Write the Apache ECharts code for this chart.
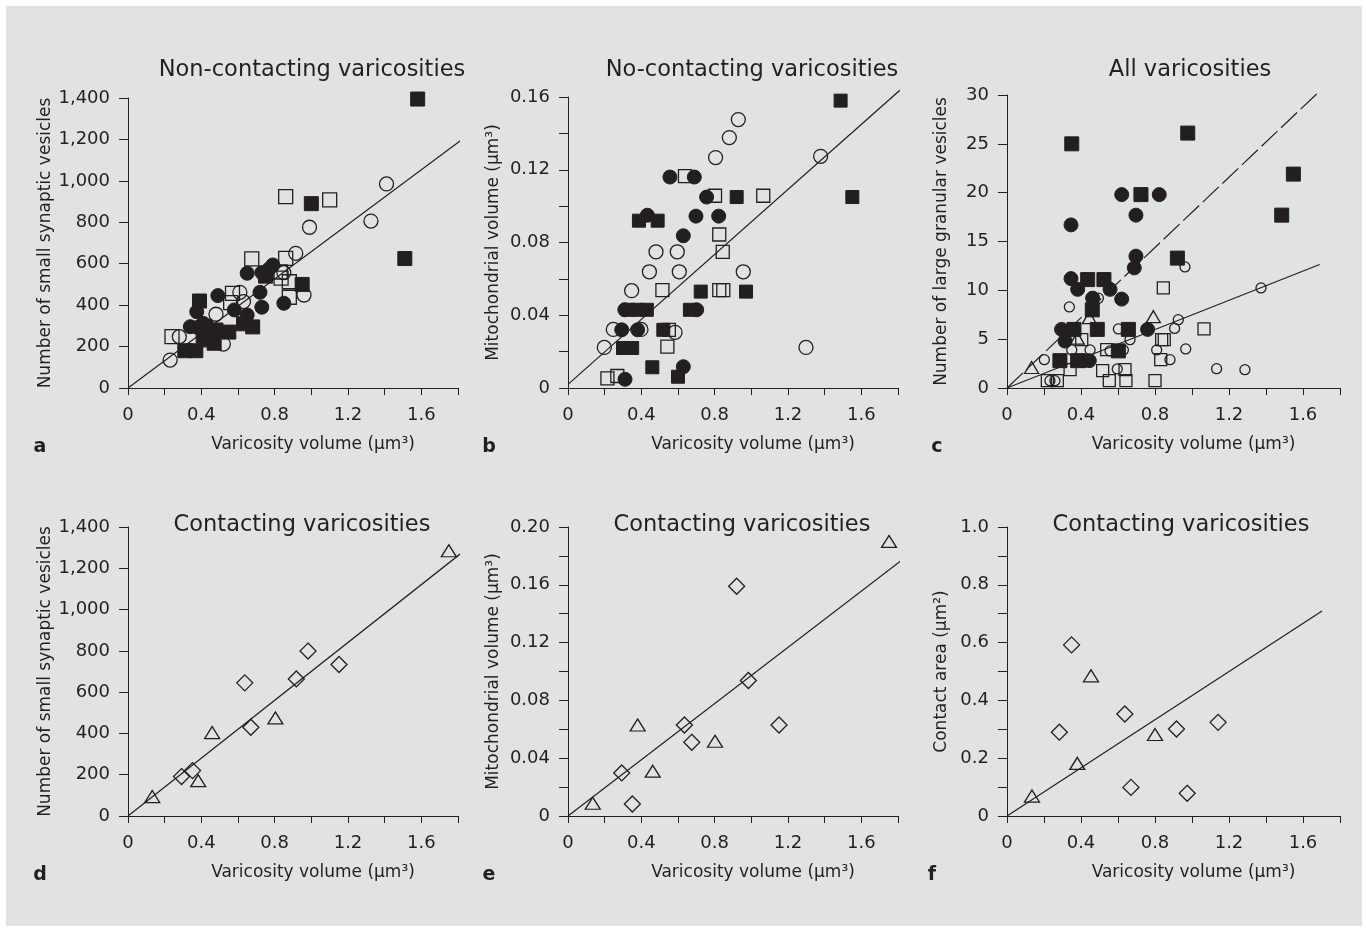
<!DOCTYPE html>
<html lang="en">
<head>
<meta charset="utf-8" />
<title>Varicosities</title>
<script src="https://cdn.jsdelivr.net/npm/echarts@6.0.0/dist/echarts.min.js"></script>
<style>
    html, body { margin: 0; padding: 0; background: #fff; }
    #panel { position: absolute; left: 6px; top: 6px; width: 1356px; height: 920px; background: #e1e2e4; }
    #chart { position: absolute; left: 0; top: 0; width: 1366px; height: 931px; }
</style>
</head>
<body>
<div id="panel"></div>
<div id="chart"></div>
<script type="text/javascript">
// ---- panel a: non-contacting, small synaptic vesicles ----
var aFilledSquare = [[1.58, 1395], [1.51, 625], [1.0, 890], [0.95, 500], [0.39, 420], [0.31, 180], [0.37, 180],
    [0.63, 310], [0.68, 295], [0.48, 280], [0.55, 270], [0.44, 232], [0.47, 216], [0.75, 540], [0.41, 250]];
var aFilledCircle = [[0.65, 554], [0.73, 557], [0.79, 594], [0.77, 575], [0.49, 446], [0.375, 368], [0.34, 296],
    [0.41, 312], [0.72, 462], [0.73, 390], [0.58, 377], [0.65, 352], [0.85, 409], [0.38, 292], [0.43, 302]];
var aOpenCircle = [[1.41, 985], [1.325, 806], [0.99, 776], [0.915, 650], [0.85, 557], [0.96, 449], [0.61, 462],
    [0.63, 417], [0.48, 356], [0.52, 212], [0.28, 248], [0.23, 135]];
var aOpenSquare = [[0.86, 924], [1.1, 908], [0.675, 623], [0.86, 626], [0.835, 530], [0.88, 513], [0.88, 438],
    [0.57, 457], [0.56, 412], [0.24, 248], [0.83, 560]];
var aFit = [[0, 0], [1.82, 1198]];

// ---- panel b: no-contacting, mitochondrial volume ----
var bFilledSquare = [[1.487, 0.158], [1.551, 0.105], [0.92, 0.105], [0.387, 0.092], [0.489, 0.092], [0.724, 0.053],
    [0.971, 0.053], [0.33, 0.043], [0.38, 0.043], [0.43, 0.043], [0.665, 0.043], [0.52, 0.032], [0.3, 0.022],
    [0.35, 0.022], [0.46, 0.0114], [0.6, 0.0062]];
var bFilledCircle = [[0.556, 0.116], [0.689, 0.116], [0.756, 0.105], [0.698, 0.0945], [0.822, 0.0945], [0.629, 0.0837],
    [0.433, 0.095], [0.293, 0.032], [0.38, 0.032], [0.629, 0.0117], [0.311, 0.0048], [0.702, 0.043], [0.31, 0.043]];
var bOpenCircle = [[0.929, 0.1476], [0.88, 0.1377], [0.805, 0.1267], [1.378, 0.1274], [0.48, 0.0749], [0.596, 0.0749],
    [0.444, 0.0639], [0.607, 0.0639], [0.956, 0.0639], [0.347, 0.0535], [0.247, 0.0322], [0.398, 0.0322],
    [0.584, 0.0306], [0.198, 0.0223], [1.298, 0.0223]];
var bOpenSquare = [[0.638, 0.1165], [0.802, 0.1057], [1.065, 0.1057], [0.825, 0.0844], [0.844, 0.0749], [0.515, 0.0538],
    [0.825, 0.0538], [0.847, 0.0538], [0.542, 0.0227], [0.215, 0.0053], [0.269, 0.0066], [0.55, 0.032]];
var bFit = [[0, 0.002], [1.81, 0.1637]];

// ---- panel c: all varicosities, large granular vesicles ----
var cFilledSquare = [[0.35, 25.0], [0.724, 19.8], [0.977, 26.1], [1.548, 21.9], [1.485, 17.7], [0.921, 13.3], [0.436, 11.1],
    [0.524, 11.1], [0.461, 8.0], [0.362, 6.0], [0.488, 6.0], [0.656, 6.0], [0.286, 2.8], [0.382, 2.8], [0.602, 3.8]];
var cFilledCircle = [[0.62, 19.8], [0.823, 19.8], [0.697, 17.7], [0.346, 16.7], [0.697, 13.5], [0.688, 12.3], [0.346, 11.2],
    [0.382, 10.1], [0.557, 10.1], [0.62, 9.1], [0.463, 9.2], [0.76, 6.0], [0.295, 6.0], [0.314, 4.8], [0.413, 2.8], [0.445, 2.8]];
var cOpenCircle = [[0.337, 8.3], [0.962, 12.4], [0.926, 7.0], [0.906, 6.1], [0.602, 6.05], [0.665, 4.95], [0.202, 2.9],
    [0.35, 3.9], [0.449, 3.9], [0.557, 3.8], [0.629, 3.9], [0.809, 3.9], [0.881, 2.9], [0.596, 1.95], [0.232, 0.75],
    [0.259, 0.75], [0.494, 9.2], [1.373, 10.25], [1.133, 1.98], [1.286, 1.88], [0.966, 4.0]];
var cOpenSquare = [[0.845, 10.25], [0.404, 4.95], [0.836, 4.95], [0.539, 3.93], [0.831, 2.9], [0.341, 1.88], [0.517, 1.78],
    [0.638, 1.88], [0.218, 0.75], [0.272, 0.75], [0.553, 0.75], [0.643, 0.75], [0.8, 0.75], [1.065, 6.05], [0.85, 4.95]];
var cOpenTriangle = [[0.133, 2.1], [0.445, 7.2], [0.791, 7.3], [0.38, 5.1]];
var cFitSolid = [[0, 0], [1.69, 12.64]];
var cFitDashed = [[0, 0], [1.69, 30.4]];

// ---- panel d: contacting, small synaptic vesicles ----
var dTriangle = [[1.75, 1285], [0.804, 475], [0.459, 404], [0.383, 171], [0.132, 94]];
var dDiamond = [[0.982, 799], [1.151, 734], [0.918, 664], [0.637, 645], [0.67, 430], [0.352, 220], [0.292, 191]];
var dFit = [[0, 0], [1.82, 1275]];

// ---- panel e: contacting, mitochondrial volume ----
var eTriangle = [[1.751, 0.190], [0.38, 0.063], [0.802, 0.0517], [0.462, 0.031], [0.135, 0.0088]];
var eDiamond = [[0.92, 0.159], [0.984, 0.0938], [0.635, 0.063], [1.151, 0.063], [0.675, 0.051], [0.293, 0.0298], [0.351, 0.0083]];
var eFit = [[0, 0], [1.82, 0.177]];

// ---- panel f: contacting, contact area ----
var fTriangle = [[0.454, 0.485], [0.38, 0.182], [0.8, 0.282], [0.135, 0.069]];
var fDiamond = [[0.349, 0.592], [0.283, 0.29], [0.637, 0.353], [0.916, 0.301], [1.141, 0.324], [0.67, 0.099], [0.974, 0.0785]];
var fFit = [[0, 0], [1.703, 0.709]];

var titles = ['Non-contacting varicosities', 'No-contacting varicosities', 'All varicosities',
    'Contacting varicosities', 'Contacting varicosities', 'Contacting varicosities'];
var yNames = ['Number of small synaptic vesicles', 'Mitochondrial volume (μm³)', 'Number of large granular vesicles',
    'Number of small synaptic vesicles', 'Mitochondrial volume (μm³)', 'Contact area (μm²)'];
var letters = ['a', 'b', 'c', 'd', 'e', 'f'];

var FONT = 'DejaVu Sans';
var INK = '#231f20';

var grids = [
    { left: 128, top: 98, width: 330, height: 290 },
    { left: 568, top: 97, width: 330, height: 291 },
    { left: 1007, top: 95, width: 333, height: 293 },
    { left: 128, top: 527, width: 330, height: 289 },
    { left: 568, top: 527, width: 330, height: 289 },
    { left: 1007, top: 527, width: 333, height: 289 }
];

function fmtX(v) {
    if (Math.round(v * 10) % 4 !== 0) return '';
    return v === 0 ? '0' : v.toFixed(1);
}
function fmtCount(v) {
    return String(v).replace(/\B(?=(\d{3})+(?!\d))/g, ',');
}
function fmtMito(v) {
    if (Math.round(v * 100) % 4 !== 0) return '';
    return v === 0 ? '0' : v.toFixed(2);
}
function fmtArea(v) {
    if (Math.round(v * 10) % 2 !== 0) return '';
    return v === 0 ? '0' : v.toFixed(1);
}

var yScales = [
    { max: 1400, interval: 200, fmt: fmtCount, gap: 73 },
    { max: 0.16, interval: 0.02, fmt: fmtMito, gap: 66 },
    { max: 30, interval: 5, fmt: String, gap: 57 },
    { max: 1400, interval: 200, fmt: fmtCount, gap: 73 },
    { max: 0.2, interval: 0.02, fmt: fmtMito, gap: 66 },
    { max: 1.0, interval: 0.1, fmt: fmtArea, gap: 57 }
];

var xAxes = [], yAxes = [];
grids.forEach(function (g, i) {
    xAxes.push({
        type: 'value', gridIndex: i, min: 0, max: 1.8, interval: 0.2,
        name: 'Varicosity volume (μm³)', nameLocation: 'middle', nameGap: 48,
        nameTextStyle: { fontFamily: FONT, fontSize: 17, color: INK, padding: [0, 0, 0, 40] },
        axisLine: { lineStyle: { color: INK, width: 1 } },
        axisTick: { length: 7, lineStyle: { color: INK, width: 1 } },
        axisLabel: { margin: 18, fontFamily: FONT, fontSize: 18, color: INK, formatter: fmtX },
        splitLine: { show: false }
    });
    var s = yScales[i];
    yAxes.push({
        type: 'value', gridIndex: i, min: 0, max: s.max, interval: s.interval,
        name: yNames[i], nameLocation: 'middle', nameGap: s.gap,
        nameTextStyle: { fontFamily: FONT, fontSize: 17, color: INK },
        axisLine: { show: true, lineStyle: { color: INK, width: 1 } },
        axisTick: { show: true, length: 9, lineStyle: { color: INK, width: 1 } },
        axisLabel: { margin: 18, fontFamily: FONT, fontSize: 18, color: INK, formatter: s.fmt },
        splitLine: { show: false }
    });
});

function pts(gi, data, symbol, size, filled) {
    return {
        type: 'scatter', xAxisIndex: gi, yAxisIndex: gi, data: data,
        symbol: symbol, symbolSize: size, clip: false, silent: true,
        itemStyle: filled
            ? { color: INK, borderColor: INK, borderWidth: 1, opacity: 1 }
            : { color: 'rgba(0,0,0,0)', borderColor: INK, borderWidth: 1.3, opacity: 1 }
    };
}
function fit(gi, data, dashed) {
    return {
        type: 'line', xAxisIndex: gi, yAxisIndex: gi, data: data,
        symbol: 'none', clip: false, silent: true, z: 1,
        lineStyle: { color: INK, width: 1.2, type: dashed ? [22, 5] : 'solid' }
    };
}

var series = [
    fit(0, aFit),
    pts(0, aOpenSquare, 'rect', 14, false),
    pts(0, aOpenCircle, 'circle', 14, false),
    pts(0, aFilledCircle, 'circle', 14, true),
    pts(0, aFilledSquare, 'rect', 14, true),

    fit(1, bFit),
    pts(1, bOpenSquare, 'rect', 13, false),
    pts(1, bOpenCircle, 'circle', 14, false),
    pts(1, bFilledCircle, 'circle', 14, true),
    pts(1, bFilledSquare, 'rect', 13, true),

    fit(2, cFitSolid),
    fit(2, cFitDashed, true),
    pts(2, cOpenSquare, 'rect', 12, false),
    pts(2, cOpenCircle, 'circle', 10, false),
    pts(2, cOpenTriangle, 'triangle', [14, 12], false),
    pts(2, cFilledCircle, 'circle', 14, true),
    pts(2, cFilledSquare, 'rect', 14, true),

    fit(3, dFit),
    pts(3, dTriangle, 'triangle', [15, 12], false),
    pts(3, dDiamond, 'diamond', 16, false),

    fit(4, eFit),
    pts(4, eTriangle, 'triangle', [15, 12], false),
    pts(4, eDiamond, 'diamond', 16, false),

    fit(5, fFit),
    pts(5, fTriangle, 'triangle', [15, 12], false),
    pts(5, fDiamond, 'diamond', 16, false)
];

var titlePos = [[312, 70], [752, 70], [1190, 70], [302, 525], [742, 525], [1181, 525]];
var letterPos = [[40, 447], [489, 447], [937, 447], [40, 875], [489, 875], [932, 875]];
var graphics = [];
titles.forEach(function (t, i) {
    graphics.push({
        type: 'text', x: titlePos[i][0], y: titlePos[i][1], silent: true,
        style: { text: t, font: '22.5px "DejaVu Sans"', fill: INK, textAlign: 'center', align: 'center',
            textVerticalAlign: 'middle', verticalAlign: 'middle' }
    });
    graphics.push({
        type: 'text', x: letterPos[i][0], y: letterPos[i][1], silent: true,
        style: { text: letters[i], font: 'bold 19px "DejaVu Sans"', fill: INK, textAlign: 'center', align: 'center',
            textVerticalAlign: 'middle', verticalAlign: 'middle' }
    });
});

var chart = echarts.init(document.getElementById('chart'));
chart.setOption({
    animation: false,
    backgroundColor: 'transparent',
    grid: grids,
    xAxis: xAxes,
    yAxis: yAxes,
    series: series,
    graphic: graphics
});
</script>
</body>
</html>
